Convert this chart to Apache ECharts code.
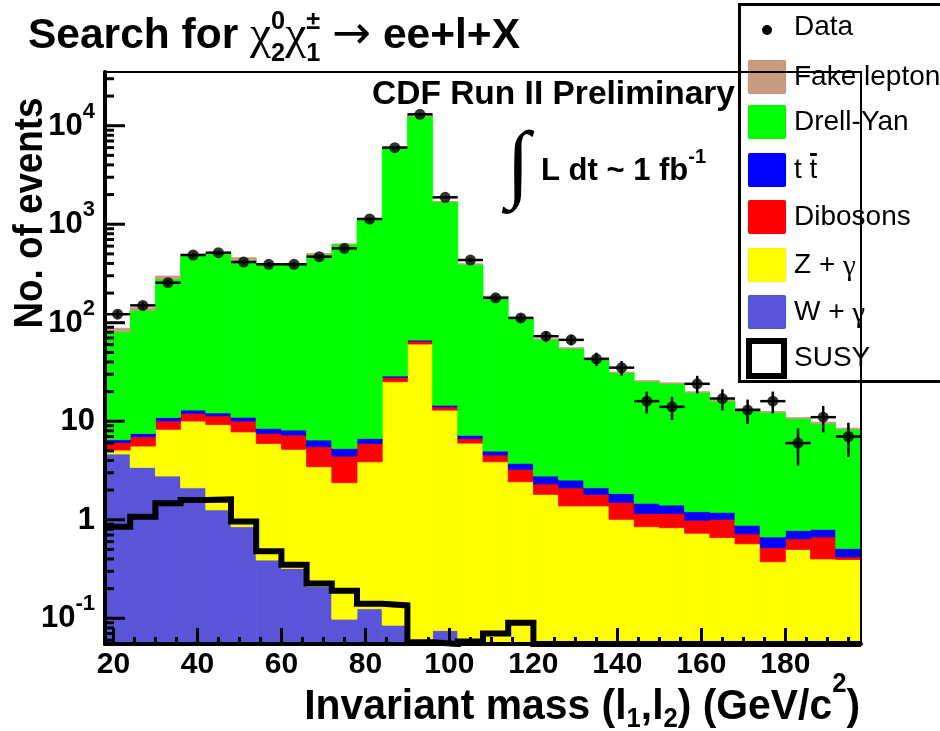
<!DOCTYPE html>
<html>
<head>
<meta charset="utf-8">
<title>Search for chargino-neutralino -> ee+l+X</title>
<script src="https://cdn.jsdelivr.net/npm/echarts@6.0.0/dist/echarts.min.js"></script>
<style>
html,body{margin:0;padding:0;background:#fff;}
#chart{width:940px;height:731px;}
</style>
</head>
<body>
<div id="chart"></div>
<script>
// ================= DATA =================
// 30 bins of 6 GeV/c^2, lower edges
const binLowEdges = [18,24,30,36,42,48,54,60,66,72,78,84,90,96,102,108,114,120,126,132,138,144,150,156,162,168,174,180,186,192];
const binWidth = 6;

// background components (events per bin), stacked bottom -> top
const wGamma     = [4.65,3.4,2.78,2.11,1.26,0.85,0.39,0.32,0.21,0.098,0.125,0.085,0,0.075,0,0,0,0,0,0,0,0,0,0,0,0,0,0,0,0];
const zGamma     = [0.45,2.2,5.5,7.94,8.0,6.95,5.57,4.87,3.24,2.28,3.75,25.1,60.8,12.9,6.0,3.88,2.43,1.81,1.38,1.38,1.01,0.85,0.83,0.73,0.66,0.57,0.375,0.50,0.40,0.395];
const dibosons   = [1.0,1.36,1.8,1.95,2.1,2.25,1.57,2.05,2.06,2.05,2.08,2.7,4.4,1.0,0.66,0.66,0.82,0.50,0.73,0.43,0.49,0.31,0.33,0.26,0.35,0.15,0.145,0.14,0.27,0.025];
const ttbar      = [0.4,0.57,0.85,1.0,0.8,0.95,0.94,0.91,0.94,0.87,0.74,0.9,1.5,0.6,0.54,0.44,0.49,0.47,0.42,0.30,0.35,0.31,0.25,0.22,0.18,0.16,0.15,0.14,0.13,0.09];
const drellYan   = [74.5,126.5,267,467,493,422,376,380,484,620,1113,6090,12470,1675,385,179,107,65.0,52.5,40.4,29.2,24.0,22.8,18.4,14.9,12.3,11.7,9.9,8.7,7.8];
const fakeLepton = [7,8,20,15,10,25,7,4,15,3,5,20,30,10,3,2,1,0.8,0.6,0.5,0.5,0.3,0.3,0.3,0.2,0.3,0.2,0.2,0.3,0.2];

// SUSY signal (0 = below the plotted range)
const susy = [0.85,1.07,1.47,1.59,1.61,0.96,0.48,0.35,0.226,0.19,0.14,0.135,0.057,0,0.058,0.07,0.09,0,0,0,0,0,0,0,0,0,0,0,0,0];

// observed data and its error bars
const dataCounts = [122,150,255,487,514,413,392,392,468,569,1130,5990,13050,1875,433,179,112,73,67,43,35,16,14,24,17,13,16,6,11,7];
const dataErr    = [11,12.2,16,22,22.7,20.3,19.8,19.8,21.6,23.9,33.6,77.4,114,43.3,20.8,13.4,10.6,8.5,8.2,6.6,5.9,4,3.7,4.9,4.1,3.6,4,2.45,3.3,2.65];

// axis ticks
const xTickLabels = [20,40,60,80,100,120,140,160,180];
const xMinorTicks = [25,30,35,45,50,55,65,70,75,85,90,95,105,110,115,125,130,135,145,150,155,165,170,175,185,190,195];
const yTickValues = [0.1,1,10,100,1000,10000];
const yMinorTicks = [0.06,0.07,0.08,0.09,0.2,0.3,0.4,0.5,0.6,0.7,0.8,0.9,2,3,4,5,6,7,8,9,20,30,40,50,60,70,80,90,200,300,400,500,600,700,800,900,2000,3000,4000,5000,6000,7000,8000,9000,20000,30000];

// ================= LAYOUT / STYLE =================
const X_MIN = 18, X_MAX = 198, Y_MIN = 0.0548, Y_MAX = 35100;
const GRID = {left: 105, top: 72, width: 756, height: 572};
const SANS = '"Liberation Sans", Arial, Helvetica, sans-serif';
const SERIF = '"Liberation Serif", "Times New Roman", serif';

const components = [
  {name: 'W + γ',       values: wGamma,     color: '#5a55d8'},
  {name: 'Z + γ',       values: zGamma,     color: '#ffff00'},
  {name: 'Dibosons',    values: dibosons,   color: '#ff0000'},
  {name: 't t̄',        values: ttbar,      color: '#0000ff'},
  {name: 'Drell-Yan',   values: drellYan,   color: '#00ff00'},
  {name: 'Fake lepton', values: fakeLepton, color: '#c89c7e'}
];

// cumulative stack table
const cumulative = binLowEdges.map(() => 0);
const stackSeries = components.map((c) => {
  const data = binLowEdges.map((x0, i) => {
    const lo = cumulative[i];
    cumulative[i] += c.values[i];
    return [x0, x0 + binWidth, lo, cumulative[i]];
  });
  return {
    type: 'custom', name: c.name, z: 2, silent: true, animation: false,
    data: data, encode: {x: [0, 1], y: 3},
    renderItem: function (params, api) {
      let lo = api.value(2), hi = api.value(3);
      if (!(hi > Y_MIN)) return null;
      lo = Math.max(lo, Y_MIN); hi = Math.min(hi, Y_MAX);
      const a = api.coord([api.value(0), hi]);
      const b = api.coord([api.value(1), lo]);
      return {type: 'rect', shape: {x: a[0], y: a[1], width: b[0] - a[0], height: b[1] - a[1]},
              style: {fill: c.color, stroke: c.color, lineWidth: 0.8}};
    }
  };
});

// SUSY step outline
const nb = binLowEdges.length;
const susyLine = binLowEdges.map((x0, i) => [x0, Math.max(susy[i], Y_MIN)]);
susyLine.push([binLowEdges[nb - 1] + binWidth, Math.max(susy[nb - 1], Y_MIN)]);

function tickSeries(values, len, width) {
  return {
    type: 'custom', z: 10, silent: true, animation: false,
    data: values.map(v => [X_MIN, v]), encode: {x: 0, y: 1},
    renderItem: function (params, api) {
      const p = api.coord([api.value(0), api.value(1)]);
      return {type: 'line', shape: {x1: p[0], y1: p[1], x2: p[0] + len, y2: p[1]},
              style: {stroke: '#000', lineWidth: width}};
    }
  };
}

// ---------- text helpers ----------
const mctx = document.createElement('canvas').getContext('2d');
function textWidth(t, font) { mctx.font = font; return mctx.measureText(t).width; }
function txt(x, y, t, font, align) {
  return {type: 'text', x: x, y: y, style: {text: t, font: font, fill: '#000', verticalAlign: 'middle', align: align || 'left'}};
}
function run(pieces) {
  let x = 0; const out = [];
  pieces.forEach(p => {
    if (p.stack) {
      let w = 0;
      p.stack.forEach(s => { out.push(txt(x, s.dy || 0, s.t, s.font)); w = Math.max(w, textWidth(s.t, s.font)); });
      x += w;
    } else {
      out.push(txt(x, p.dy || 0, p.t, p.font));
      x += textWidth(p.t, p.font);
    }
  });
  return {children: out, width: x};
}

// title
const T_F = 'bold 42px ' + SANS, CHI_F = '47px ' + SERIF, SS_F = 'bold 25px ' + SANS, AR_F = '46px "DejaVu Sans"';
const titleRun = run([
  {t: 'Search for ', font: T_F},
  {t: 'χ', font: CHI_F},
  {stack: [{t: '0', font: SS_F, dy: -14}, {t: '2', font: SS_F, dy: 18}]},
  {t: 'χ', font: CHI_F},
  {stack: [{t: '±', font: SS_F, dy: -14}, {t: '1', font: SS_F, dy: 18}]},
  {t: ' ', font: T_F},
  {t: '→', font: AR_F},
  {t: ' ee+l+X', font: T_F}
]);
const TITLE_SCALE = 492 / titleRun.width;

// x-axis title
const XT_F = 'bold 43px ' + SANS, XS_F = 'bold 27px ' + SANS;
const xTitleRun = run([
  {t: 'Invariant mass (l', font: XT_F},
  {t: '1', font: XS_F, dy: 13},
  {t: ',l', font: XT_F},
  {t: '2', font: XS_F, dy: 13},
  {t: ') (GeV/c', font: XT_F},
  {t: '2', font: XS_F, dy: -22},
  {t: ')', font: XT_F}
]);
const XT_SCALE = 0.95;

// y-axis title
const YT_F = 'bold 40px ' + SANS;
const yTitleW = textWidth('No. of events', YT_F);

// luminosity
const lumiRun = run([
  {t: 'L dt ~ 1 fb', font: 'bold 31px ' + SANS},
  {t: '-1', font: 'bold 20px ' + SANS, dy: -14}
]);

// legend
const LEG_F = '28px ' + SANS;
const legendRows = [
  {label: 'Data', y: 27, kind: 'dot'},
  {label: 'Fake lepton', y: 77, color: '#c89c7e'},
  {label: 'Drell-Yan', y: 122, color: '#00ff00'},
  {label: 'tt', y: 170, color: '#0000ff'},
  {label: 'Dibosons', y: 217, color: '#ff0000'},
  {label: 'Z + γ', y: 265, color: '#ffff00'},
  {label: 'W + γ', y: 312, color: '#5a55d8'},
  {label: 'SUSY', y: 358, kind: 'outline'}
];
const legendChildren = [
  {type: 'rect', shape: {x: 739.5, y: 4.5, width: 240, height: 377}, style: {fill: '#fff', stroke: '#000', lineWidth: 3}}
];
legendRows.forEach(r => {
  if (r.kind === 'dot') {
    legendChildren.push({type: 'circle', shape: {cx: 767, cy: r.y + 3, r: 5}, style: {fill: '#000'}});
  } else if (r.kind === 'outline') {
    legendChildren.push({type: 'rect', shape: {x: 749, y: r.y - 17, width: 35, height: 35}, style: {fill: '#fff', stroke: '#000', lineWidth: 6}});
  } else {
    legendChildren.push({type: 'rect', shape: {x: 748, y: r.y - 17, width: 38, height: 34, r: 2}, style: {fill: r.color, stroke: 'rgba(0,0,0,0.08)', lineWidth: 1}});
  }
  if (r.label === 'Z + γ' || r.label === 'W + γ') {
    const base = r.label.slice(0, 4);
    legendChildren.push(txt(794, r.y, base, LEG_F));
    legendChildren.push(txt(794 + textWidth(base, LEG_F), r.y + 2, 'γ', '29px ' + SERIF));
  } else if (r.label === 'tt') {
    legendChildren.push(txt(794, r.y, 't t', LEG_F));
    const x2 = 794 + textWidth('t ', LEG_F);
    legendChildren.push({type: 'rect', shape: {x: x2 + 0.5, y: r.y - 17, width: textWidth('t', LEG_F) - 1, height: 3}, style: {fill: '#000'}});
  } else {
    legendChildren.push(txt(794, r.y, r.label, LEG_F));
  }
});

const graphics = [
  // frame
  {type: 'rect', z: 9, silent: true, shape: {x: GRID.left, y: GRID.top, width: GRID.width, height: GRID.height},
   style: {fill: 'none', stroke: '#000', lineWidth: 2}},
  // title
  {type: 'group', x: 28, y: 36, scaleX: TITLE_SCALE, z: 100, children: titleRun.children},
  // CDF label
  Object.assign(txt(372, 95, 'CDF Run II Preliminary', 'bold 33.5px ' + SANS), {z: 100}),
  // luminosity
  Object.assign(txt(518, 168, '∫', '86px ' + SERIF, 'center'), {z: 100}),
  {type: 'group', x: 541, y: 171, z: 100, children: lumiRun.children},
  // axis titles
  {type: 'group', x: 860 - xTitleRun.width * XT_SCALE, y: 707, scaleX: XT_SCALE, z: 100, children: xTitleRun.children},
  {type: 'group', x: 31, y: 213, rotation: Math.PI / 2, scaleX: 0.92, z: 100,
   children: [txt(-yTitleW / 2, 0, 'No. of events', YT_F)]},
  // legend
  {type: 'group', x: 0, y: 0, z: 100, children: legendChildren}
];

function yLabel(v) {
  const e = Math.log10(v);
  const r = Math.round(e);
  if (Math.abs(e - r) > 1e-6) return '';
  if (r === 0) return '{b|1}';
  if (r === 1) return '{b|10}';
  return '{b|10}{s|' + r + '}';
}

const option = {
  animation: false,
  backgroundColor: '#fff',
  grid: {left: GRID.left, top: GRID.top, width: GRID.width, height: GRID.height, show: false},
  xAxis: [
    {type: 'value', min: X_MIN, max: X_MAX, position: 'bottom', z: 10,
     axisLine: {show: true, onZero: false, lineStyle: {color: '#000', width: 4}},
     axisTick: {show: true, inside: true, length: 16, lineStyle: {color: '#000', width: 3}, customValues: xTickLabels},
     axisLabel: {show: true, customValues: xTickLabels, color: '#000', fontFamily: SANS, fontWeight: 'bold', fontSize: 30, margin: 6},
     splitLine: {show: false}},
    {type: 'value', min: X_MIN, max: X_MAX, position: 'bottom', z: 10,
     axisLine: {show: false},
     axisTick: {show: true, inside: true, length: 7, lineStyle: {color: '#000', width: 3}, customValues: xMinorTicks},
     axisLabel: {show: false}, splitLine: {show: false}}
  ],
  yAxis: {
    type: 'log', logBase: 10, min: Y_MIN, max: Y_MAX, z: 10,
    axisLine: {show: true, onZero: false, lineStyle: {color: '#000', width: 4}},
    axisTick: {show: false}, minorTick: {show: false}, splitLine: {show: false}, minorSplitLine: {show: false},
    axisLabel: {
      show: true, margin: 10, formatter: yLabel,
      rich: {
        b: {fontFamily: SANS, fontWeight: 'bold', fontSize: 31, color: '#000', lineHeight: 32, verticalAlign: 'bottom'},
        s: {fontFamily: SANS, fontWeight: 'bold', fontSize: 22, color: '#000', lineHeight: 22, verticalAlign: 'bottom', padding: [0, 0, 19, 0]}
      }
    }
  },
  graphic: graphics,
  series: stackSeries.concat([
    {type: 'line', name: 'SUSY', data: susyLine, step: 'end', showSymbol: false, symbol: 'none', z: 3, clip: true, silent: true,
     lineStyle: {color: '#000', width: 6, join: 'miter'}},
    {type: 'custom', name: 'Data errors', z: 4, silent: true,
     data: dataCounts.map((v, i) => [binLowEdges[i] + binWidth / 2, v, dataErr[i], binLowEdges[i], binLowEdges[i] + binWidth]),
     encode: {x: 0, y: 1},
     renderItem: function (params, api) {
       const xc = api.value(0), v = api.value(1), e = api.value(2);
       const l = api.coord([api.value(3), v]), r = api.coord([api.value(4), v]);
       const t = api.coord([xc, Math.min(v + e, Y_MAX)]), b = api.coord([xc, Math.max(v - e, Y_MIN)]);
       return {type: 'group', children: [
         {type: 'line', shape: {x1: l[0], y1: l[1], x2: r[0], y2: r[1]}, style: {stroke: '#000', lineWidth: 2.5}},
         {type: 'line', shape: {x1: t[0], y1: t[1], x2: b[0], y2: b[1]}, style: {stroke: '#000', lineWidth: 2.5}}
       ]};
     }},
    {type: 'scatter', name: 'Data', z: 5, silent: true, symbol: 'circle', symbolSize: 11,
     itemStyle: {color: '#000'},
     data: dataCounts.map((v, i) => [binLowEdges[i] + binWidth / 2, v])},
    tickSeries(yTickValues, 20, 3),
    tickSeries(yMinorTicks, 9, 3)
  ])
};

const chart = echarts.init(document.getElementById('chart'), null, {renderer: 'canvas'});
chart.setOption(option);
</script>
</body>
</html>
